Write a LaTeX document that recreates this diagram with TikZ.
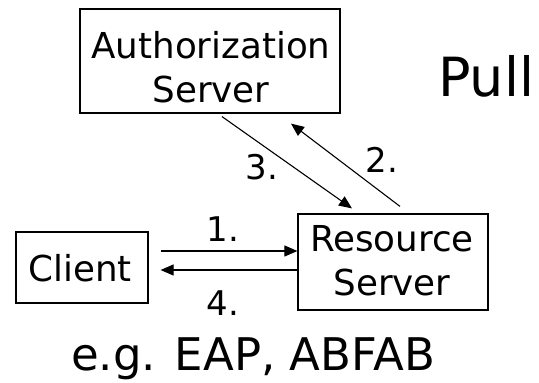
\documentclass[tikz,border=0pt]{standalone}
\usepackage{fontspec}
\setmainfont{DejaVu Sans}
\usetikzlibrary{arrows.meta}
\begin{document}
\begin{tikzpicture}[x=1pt,y=-1pt,
  box/.style={draw,line width=1.2pt,inner sep=0pt,rectangle},
  txt/.style={inner sep=0pt,align=center,font=\fontsize{35.7}{43.5}\selectfont},
  num/.style={inner sep=0pt,font=\fontsize{34}{40}\selectfont},
  arr/.style={line width=1.1pt,-{Triangle[length=13pt,width=11pt]}}]
\useasboundingbox (0,0) rectangle (539,383);
\node[box,minimum width=260pt,minimum height=104pt] (auth) at (210,61) {};
\node[txt] (authtxt) at (211,67) {Authorization\\Server};
\node[box,minimum width=190pt,minimum height=96pt] (res) at (393,262) {};
\node[txt] (restxt) at (392,260.5) {Resource\\Server};
\node[box,minimum width=132pt,minimum height=71pt] (cli) at (82,267.5) {};
\node[txt] (clitxt) at (80,268) {Client};
\node[inner sep=0pt,anchor=west,font=\fontsize{54}{60}\selectfont] (pull) at (438,76) {Pull};
\node[inner sep=0pt,font=\fontsize{45}{50}\selectfont] (eg) at (253,359) {e.g. EAP, ABFAB};
\coordinate (a1s) at ([xshift=12pt,yshift=16.5pt]cli.east);
\coordinate (a1e) at (res.west |- a1s);
\coordinate (a4s) at ([yshift=-8pt]res.west);
\coordinate (a4e) at (a1s |- a4s);
\coordinate (a3s) at ([shift={(12pt,-3pt)}]auth.south);
\coordinate (a3e) at ([shift={(-41pt,5pt)}]res.north);
\coordinate (a2s) at ([shift={(7pt,7pt)}]res.north);
\coordinate (a2e) at ([shift={(81pt,-10pt)}]auth.south);
\draw[arr] (a1s) -- (a1e);
\draw[arr] (a4s) -- (a4e);
\draw[arr] (a3s) -- (a3e);
\draw[arr] (a2s) -- (a2e);
\node[num] (n1) at (223,229.5) {1.};
\node[num] (n4) at (223,303) {4.};
\node[num] (n3) at (262,167) {3.};
\node[num] (n2) at (382,160) {2.};
\end{tikzpicture}
\end{document}
